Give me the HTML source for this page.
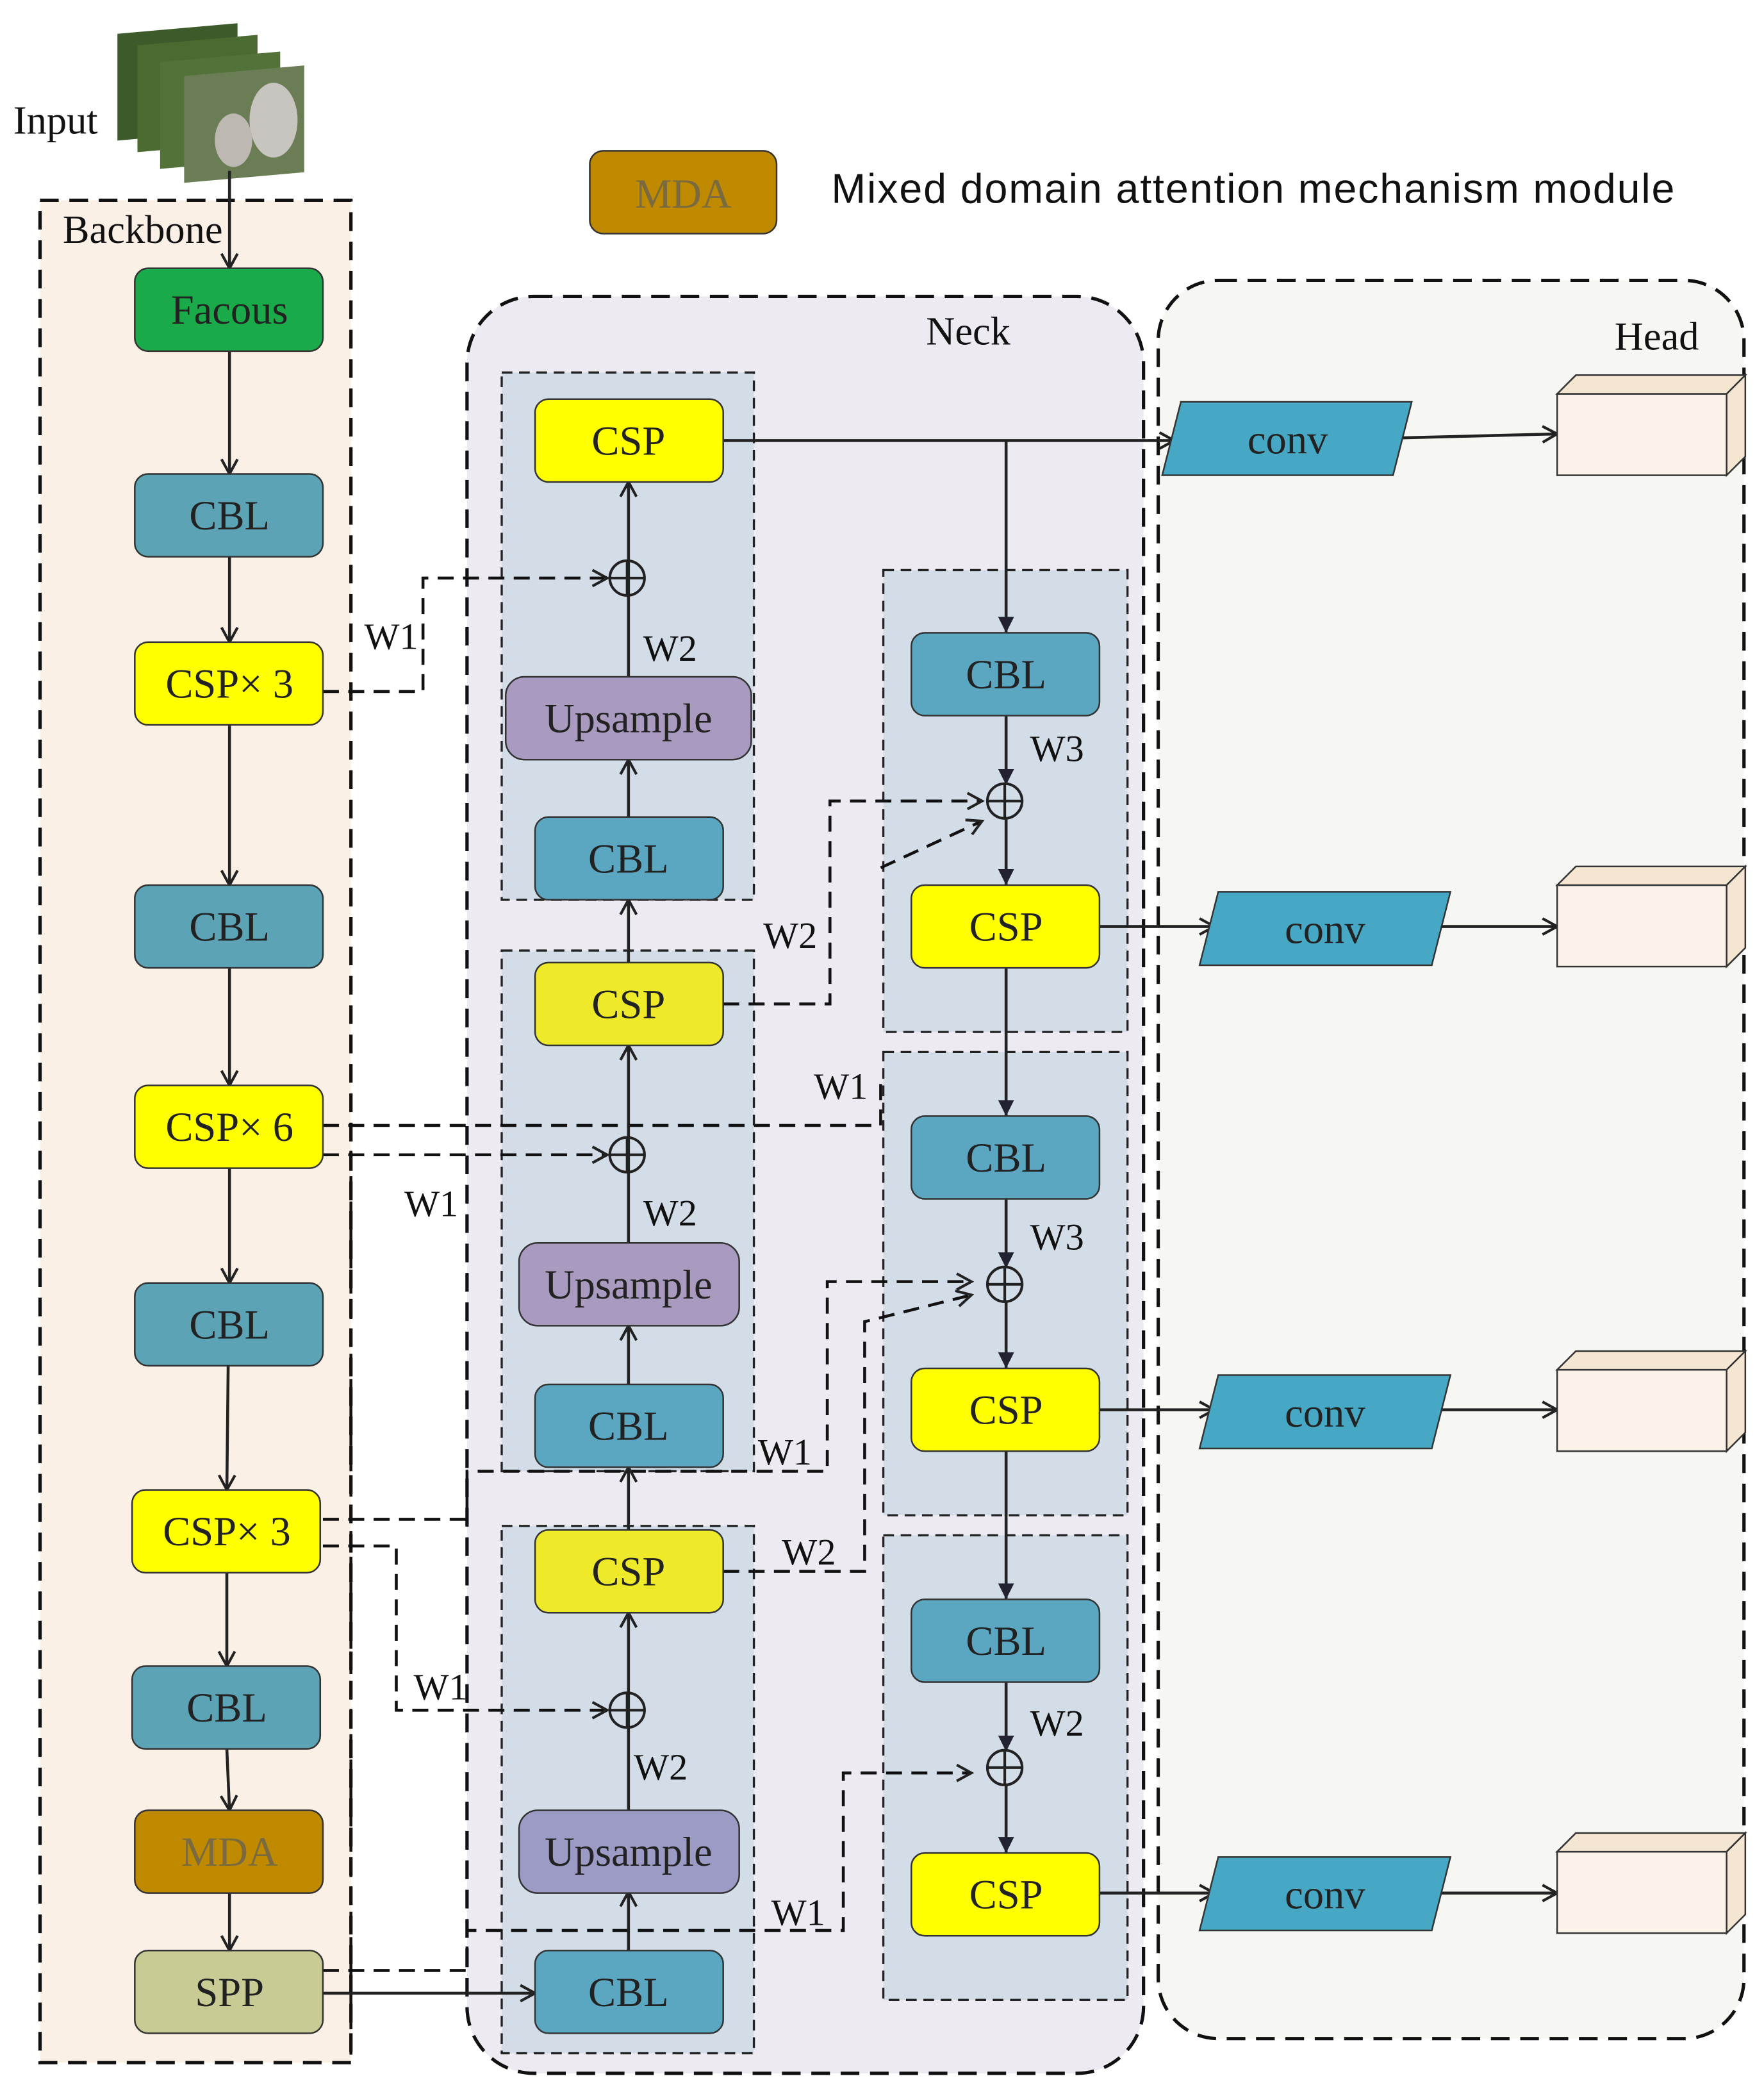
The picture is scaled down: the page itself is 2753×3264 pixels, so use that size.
<!DOCTYPE html>
<html><head><meta charset="utf-8"><style>
html,body{margin:0;padding:0;background:#fff;}
svg{display:block}
.s{font-family:"Liberation Serif",serif;font-size:31px;text-anchor:middle;dominant-baseline:central;fill:#222}
.w{font-family:"Liberation Serif",serif;font-size:28px;fill:#111}
.d{fill:none;stroke:#111;stroke-width:2.5;stroke-dasharray:14 8}
.ln{fill:none;stroke:#222;stroke-width:2.2}
.b{stroke:#333;stroke-width:1.2}
</style></head><body>
<svg width="2753" height="3264" viewBox="0 0 1322 1567" preserveAspectRatio="none" xmlns="http://www.w3.org/2000/svg">
<defs>
<marker id="a" markerWidth="14" markerHeight="14" refX="12" refY="7" orient="auto" markerUnits="userSpaceOnUse"><path d="M1,1 L12,7 L1,13" fill="none" stroke="#222" stroke-width="2"/></marker>
<marker id="t" markerWidth="14" markerHeight="14" refX="12" refY="7" orient="auto" markerUnits="userSpaceOnUse"><path d="M0,1 L12,7 L0,13 Z" fill="#223"/></marker>
</defs>
<rect x="30" y="150" width="233" height="1395" fill="#faf0e6"/>
<rect x="30" y="150" width="233" height="1395" class="d"/>
<rect x="350" y="222" width="507" height="1331" rx="50" fill="#edeaf2"/>
<rect x="350" y="222" width="507" height="1331" rx="50" class="d"/>
<rect x="868" y="210" width="439" height="1317" rx="45" fill="#f6f7f2"/>
<rect x="868" y="210" width="439" height="1317" rx="45" class="d"/>
<g fill="#d3dde8">
<rect x="376" y="279" width="189" height="395"/><rect x="376" y="712" width="189" height="390"/><rect x="376" y="1143" width="189" height="395"/>
<rect x="662" y="427" width="183" height="346"/><rect x="662" y="788" width="183" height="347"/><rect x="662" y="1150" width="183" height="348"/>
</g>
<g fill="none" stroke="#222" stroke-width="1.6" stroke-dasharray="8 5">
<rect x="376" y="279" width="189" height="395"/><rect x="376" y="712" width="189" height="390"/><rect x="376" y="1143" width="189" height="395"/>
<rect x="662" y="427" width="183" height="346"/><rect x="662" y="788" width="183" height="347"/><rect x="662" y="1150" width="183" height="348"/>
</g>
<g>
<rect x="88" y="25" width="90" height="80" fill="#3d5a2a" transform="skewY(-5) translate(0,8)"/>
<rect x="103" y="33" width="90" height="80" fill="#4a6a30" transform="skewY(-5) translate(0,10)"/>
<rect x="120" y="45" width="90" height="80" fill="#52723a" transform="skewY(-5) translate(0,12)"/>
<rect x="138" y="55" width="90" height="80" fill="#6a7d55" transform="skewY(-5) translate(0,14)"/>
<ellipse cx="205" cy="90" rx="18" ry="28" fill="#c8c4c0"/><ellipse cx="175" cy="105" rx="14" ry="20" fill="#bdb8b2"/>
</g>
<text x="10" y="100" class="w" style="font-size:30px">Input</text>
<text x="47" y="182" class="w" style="font-size:30px">Backbone</text>
<text x="694" y="258" class="w" style="font-size:30px">Neck</text>
<text x="1210" y="262" class="w" style="font-size:30px">Head</text>
<rect x="442" y="113" width="140" height="62" rx="10" fill="#c08a00" class="b"/>
<text x="512" y="145" class="s" style="fill:#7a6a40">MDA</text>
<text x="623" y="152" textLength="632" style="font-family:'Liberation Sans',sans-serif;font-size:31px;fill:#111">Mixed domain attention mechanism module</text>
<g class="d" style="stroke-width:2.2;stroke-dasharray:12 7">
<path d="M242 518 H317 V433 H455" marker-end="url(#a)"/>
<path d="M242 843 H660 V808"/>
<path d="M242 865 H455" marker-end="url(#a)"/>
<path d="M242 1138 H350 V1102 H620 V960 H728" marker-end="url(#a)"/>
<path d="M242 1158 H297 V1281 H455" marker-end="url(#a)"/>
<path d="M242 1476 H350 V1446 H632 V1328 H728" marker-end="url(#a)"/>
<path d="M542 752 H622 V600 H736" marker-end="url(#a)"/>
<path d="M542 1177 H648 V990 L728 970" marker-end="url(#a)"/>
<path d="M660 650 L736 615" marker-end="url(#a)"/>
<path d="M263 843 V1545"/>
</g>
<g class="ln">
<path d="M172 128 V201" marker-end="url(#a)"/>
<path d="M172 263 V355" marker-end="url(#a)"/>
<path d="M172 417 V481" marker-end="url(#a)"/>
<path d="M172 543 V663" marker-end="url(#a)"/>
<path d="M172 725 V813" marker-end="url(#a)"/>
<path d="M172 875 V961" marker-end="url(#a)"/>
<path d="M171 1023 L170 1116" marker-end="url(#a)"/>
<path d="M170 1178 V1248" marker-end="url(#a)"/>
<path d="M170 1310 L172 1356" marker-end="url(#a)"/>
<path d="M172 1418 V1461" marker-end="url(#a)"/>
<path d="M242 1493 H401" marker-end="url(#a)"/>
<path d="M471 1461 V1417" marker-end="url(#a)"/>
<path d="M471 1356 V1281 M471 1290 V1208" marker-end="url(#a)"/>
<path d="M471 1146 V1099" marker-end="url(#a)"/>
<path d="M471 1037 V993" marker-end="url(#a)"/>
<path d="M471 931 V865 M471 873 V783" marker-end="url(#a)"/>
<path d="M471 721 V674" marker-end="url(#a)"/>
<path d="M471 612 V569" marker-end="url(#a)"/>
<path d="M471 507 V433 M471 441 V361" marker-end="url(#a)"/>
<path d="M542 330 H880" marker-end="url(#a)"/>
<path d="M754 330 V474" marker-end="url(#t)"/>
<path d="M754 536 V588" marker-end="url(#t)"/>
<path d="M754 612 V663" marker-end="url(#t)"/>
<path d="M754 725 V836" marker-end="url(#t)"/>
<path d="M754 898 V950" marker-end="url(#t)"/>
<path d="M754 974 V1025" marker-end="url(#t)"/>
<path d="M754 1087 V1198" marker-end="url(#t)"/>
<path d="M754 1260 V1312" marker-end="url(#t)"/>
<path d="M754 1336 V1388" marker-end="url(#t)"/>
<path d="M824 694 H910" marker-end="url(#a)"/>
<path d="M824 1056 H910" marker-end="url(#a)"/>
<path d="M824 1418 H910" marker-end="url(#a)"/>
<path d="M1050 328 L1167 325" marker-end="url(#a)"/>
<path d="M1078 694 H1167" marker-end="url(#a)"/>
<path d="M1078 1056 H1167" marker-end="url(#a)"/>
<path d="M1078 1418 H1167" marker-end="url(#a)"/>
</g>
<g fill="none" stroke="#222" stroke-width="2">
<circle cx="470" cy="433" r="13"/><path d="M457 433 H483 M470 420 V446"/>
<circle cx="470" cy="865" r="13"/><path d="M457 865 H483 M470 852 V878"/>
<circle cx="470" cy="1281" r="13"/><path d="M457 1281 H483 M470 1268 V1294"/>
<circle cx="753" cy="600" r="13"/><path d="M740 600 H766 M753 587 V613"/>
<circle cx="753" cy="962" r="13"/><path d="M740 962 H766 M753 949 V975"/>
<circle cx="753" cy="1324" r="13"/><path d="M740 1324 H766 M753 1311 V1337"/>
</g>
<g class="b">
<rect x="101" y="201" width="141" height="62" rx="10" fill="#1aaa4a"/>
<rect x="101" y="355" width="141" height="62" rx="10" fill="#5ba3b5"/>
<rect x="101" y="481" width="141" height="62" rx="10" fill="#ffff00"/>
<rect x="101" y="663" width="141" height="62" rx="10" fill="#5ba3b5"/>
<rect x="101" y="813" width="141" height="62" rx="10" fill="#ffff00"/>
<rect x="101" y="961" width="141" height="62" rx="10" fill="#5ba3b5"/>
<rect x="99" y="1116" width="141" height="62" rx="10" fill="#ffff00"/>
<rect x="99" y="1248" width="141" height="62" rx="10" fill="#5ba3b5"/>
<rect x="101" y="1356" width="141" height="62" rx="10" fill="#c08a00"/>
<rect x="101" y="1461" width="141" height="62" rx="10" fill="#c8cc94"/>
<rect x="401" y="299" width="141" height="62" rx="10" fill="#ffff00"/>
<rect x="379" y="507" width="184" height="62" rx="14" fill="#a99bc0"/>
<rect x="401" y="612" width="141" height="62" rx="10" fill="#5ba7c2"/>
<rect x="401" y="721" width="141" height="62" rx="10" fill="#eeea2a"/>
<rect x="389" y="931" width="165" height="62" rx="14" fill="#a99bc0"/>
<rect x="401" y="1037" width="141" height="62" rx="10" fill="#5ba7c2"/>
<rect x="401" y="1146" width="141" height="62" rx="10" fill="#eeea2a"/>
<rect x="389" y="1356" width="165" height="62" rx="14" fill="#9b9bc6"/>
<rect x="401" y="1461" width="141" height="62" rx="10" fill="#5ba7c2"/>
<rect x="683" y="474" width="141" height="62" rx="10" fill="#5ba7c2"/>
<rect x="683" y="663" width="141" height="62" rx="10" fill="#ffff00"/>
<rect x="683" y="836" width="141" height="62" rx="10" fill="#5ba7c2"/>
<rect x="683" y="1025" width="141" height="62" rx="10" fill="#ffff00"/>
<rect x="683" y="1198" width="141" height="62" rx="10" fill="#5ba7c2"/>
<rect x="683" y="1388" width="141" height="62" rx="10" fill="#ffff00"/>
<polygon points="885,301 1058,301 1044,356 871,356" fill="#46a8c4"/>
<polygon points="913,668 1087,668 1073,723 899,723" fill="#46a8c4"/>
<polygon points="913,1030 1087,1030 1073,1085 899,1085" fill="#46a8c4"/>
<polygon points="913,1391 1087,1391 1073,1446 899,1446" fill="#46a8c4"/>
</g>
<g stroke="#333" stroke-width="1.2">
<g fill="#fbf3ea"><rect x="1167" y="295" width="127" height="61"/><rect x="1167" y="663" width="127" height="61"/><rect x="1167" y="1026" width="127" height="61"/><rect x="1167" y="1387" width="127" height="61"/></g>
<g fill="#f5e6d2">
<polygon points="1167,295 1181,281 1308,281 1294,295"/><polygon points="1294,295 1308,281 1308,342 1294,356"/>
<polygon points="1167,663 1181,649 1308,649 1294,663"/><polygon points="1294,663 1308,649 1308,710 1294,724"/>
<polygon points="1167,1026 1181,1012 1308,1012 1294,1026"/><polygon points="1294,1026 1308,1012 1308,1073 1294,1087"/>
<polygon points="1167,1387 1181,1373 1308,1373 1294,1387"/><polygon points="1294,1387 1308,1373 1308,1434 1294,1448"/>
</g></g>
<text x="172" y="232" class="s">Facous</text>
<text x="172" y="386" class="s">CBL</text>
<text x="172" y="512" class="s">CSP×&#160;3</text>
<text x="172" y="694" class="s">CBL</text>
<text x="172" y="844" class="s">CSP×&#160;6</text>
<text x="172" y="992" class="s">CBL</text>
<text x="170" y="1147" class="s">CSP×&#160;3</text>
<text x="170" y="1279" class="s">CBL</text>
<text x="172" y="1387" class="s" style="fill:#7a6a40">MDA</text>
<text x="172" y="1492" class="s">SPP</text>
<text x="471" y="330" class="s">CSP</text>
<text x="471" y="538" class="s">Upsample</text>
<text x="471" y="643" class="s">CBL</text>
<text x="471" y="752" class="s">CSP</text>
<text x="471" y="962" class="s">Upsample</text>
<text x="471" y="1068" class="s">CBL</text>
<text x="471" y="1177" class="s">CSP</text>
<text x="471" y="1387" class="s">Upsample</text>
<text x="471" y="1492" class="s">CBL</text>
<text x="754" y="505" class="s">CBL</text>
<text x="754" y="694" class="s">CSP</text>
<text x="754" y="867" class="s">CBL</text>
<text x="754" y="1056" class="s">CSP</text>
<text x="754" y="1229" class="s">CBL</text>
<text x="754" y="1419" class="s">CSP</text>
<text x="965" y="329" class="s">conv</text>
<text x="993" y="696" class="s">conv</text>
<text x="993" y="1058" class="s">conv</text>
<text x="993" y="1419" class="s">conv</text>
<text x="273" y="486" class="w">W1</text>
<text x="482" y="495" class="w">W2</text>
<text x="772" y="570" class="w">W3</text>
<text x="572" y="710" class="w">W2</text>
<text x="610" y="823" class="w">W1</text>
<text x="303" y="911" class="w">W1</text>
<text x="482" y="918" class="w">W2</text>
<text x="772" y="936" class="w">W3</text>
<text x="568" y="1097" class="w">W1</text>
<text x="586" y="1172" class="w">W2</text>
<text x="310" y="1273" class="w">W1</text>
<text x="475" y="1333" class="w">W2</text>
<text x="772" y="1300" class="w">W2</text>
<text x="578" y="1442" class="w">W1</text>
</svg>
</body></html>
